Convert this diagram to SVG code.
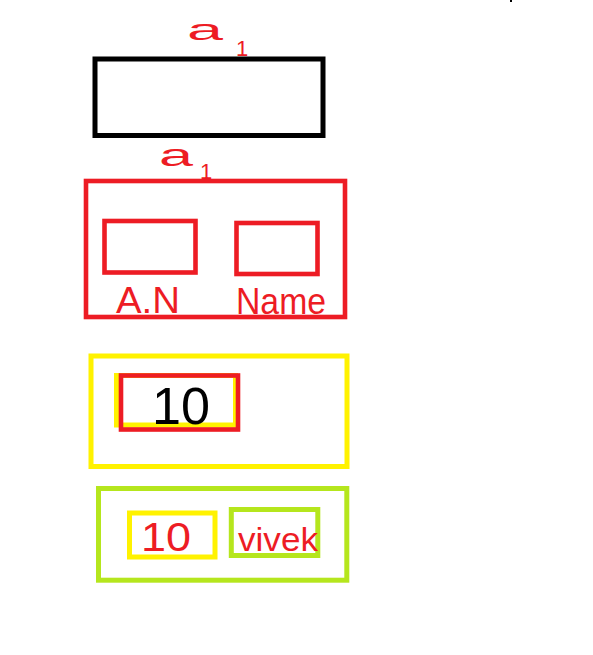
<svg xmlns="http://www.w3.org/2000/svg" width="593" height="655" viewBox="0 0 593 655">
<style>
  .box{fill:none}
  .blk{stroke:#000;stroke-width:5}
  .red{stroke:#ed1c24;stroke-width:4.6}
  .yel{stroke:#fff200;stroke-width:5}
  .grn{stroke:#b5e61d;stroke-width:5}
  .hand{font-family:"Liberation Sans",Arial,sans-serif;fill:#ed1c24}
  .ink{font-family:"Liberation Sans",Arial,sans-serif;fill:#000}
</style>
<rect width="593" height="655" fill="#fff"/>
<rect x="510" y="0" width="2" height="2" fill="#000"/>
<g id="connectors"></g>
<g id="a1-top">
  <text class="hand" x="187" y="40" font-size="30" textLength="36" lengthAdjust="spacingAndGlyphs">a</text>
  <text class="hand" x="236" y="56" font-size="22">1</text>
  <rect class="box blk" x="95" y="59" width="228" height="76.5"/>
</g>
<g id="a1-record">
  <text class="hand" x="159" y="166" font-size="32" textLength="34" lengthAdjust="spacingAndGlyphs">a</text>
  <text class="hand" x="200" y="179" font-size="22">1</text>
  <rect class="box red" x="86" y="181" width="259" height="136"/>
  <g id="field-an">
    <rect class="box red" x="104.5" y="221" width="91" height="51.5"/>
    <text class="hand" x="116" y="313" font-size="36" textLength="64" lengthAdjust="spacingAndGlyphs">A.N</text>
  </g>
  <g id="field-name">
    <rect class="box red" x="236.5" y="223" width="81" height="51"/>
    <text class="hand" x="236" y="314" font-size="36" textLength="90" lengthAdjust="spacingAndGlyphs">Name</text>
  </g>
</g>
<g id="yellow-record">
  <rect class="box yel" x="91" y="356" width="256" height="110.5"/>
  <rect class="box yel" x="116.5" y="375.5" width="119" height="49.5"/>
  <rect class="box red" x="121" y="375.5" width="117" height="54"/>
  <text class="ink" x="152" y="424" font-size="52" textLength="58" lengthAdjust="spacingAndGlyphs">10</text>
</g>
<g id="green-record">
  <rect class="box grn" x="98.5" y="488.5" width="248.3" height="91.7"/>
  <g id="field-10">
    <rect class="box yel" x="129.5" y="513" width="85.5" height="44"/>
    <text class="hand" x="141" y="551" font-size="40" textLength="50" lengthAdjust="spacingAndGlyphs">10</text>
  </g>
  <g id="field-vivek">
    <rect class="box grn" x="231.3" y="509.5" width="86.5" height="46"/>
    <text class="hand" x="238" y="551" font-size="34" textLength="80" lengthAdjust="spacingAndGlyphs">vivek</text>
  </g>
</g>
</svg>
